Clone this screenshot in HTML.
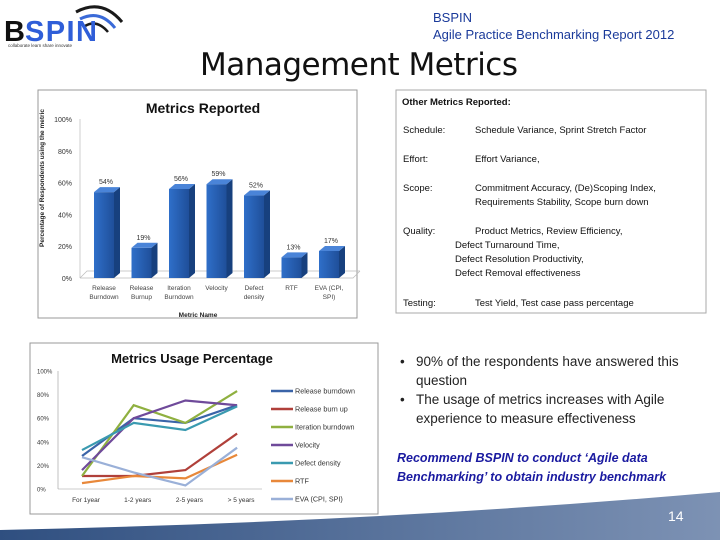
<!DOCTYPE html>
<html><head><meta charset="utf-8"><style>
body{margin:0;width:720px;height:540px;overflow:hidden;background:#fff;font-family:"Liberation Sans",sans-serif}
svg{display:block}
</style></head><body>
<svg id="s" width="720" height="540" xmlns="http://www.w3.org/2000/svg">
<defs>
<linearGradient id="bg" x1="0" x2="1" y1="0" y2="0"><stop offset="0" stop-color="#2f4f80"/><stop offset="1" stop-color="#7d92b4"/></linearGradient>
<linearGradient id="bf" x1="0" x2="1"><stop offset="0" stop-color="#2f6fc9"/><stop offset="1" stop-color="#1f4f9a"/></linearGradient>
</defs>
<path d="M0,540 L0,530 Q380,522 720,492 L720,540 Z" fill="url(#bg)"/>
<text x="668" y="521" font-size="14" fill="#fff">14</text>
<g>
<path d="M76,12 Q102,-2 122,22" stroke="#1a1a1a" stroke-width="3" fill="none"/>
<path d="M80,19 Q100,9 115,28" stroke="#3a6ad8" stroke-width="3" fill="none"/>
<path d="M85,26 Q97,19 108,32" stroke="#1a1a1a" stroke-width="2.5" fill="none"/>
<text x="4" y="41" font-size="29" font-weight="bold" fill="#111" font-family="Liberation Sans">B</text>
<text x="25" y="41" font-size="29" font-weight="bold" fill="#2f5ed8" font-family="Liberation Sans" textLength="72">SPIN</text>
<text x="8" y="47" font-size="4.5" fill="#333">collaborate learn share innovate</text>
</g>
<text x="433" y="22" font-size="13" fill="#1a3a9a">BSPIN</text>
<text x="433" y="39" font-size="13" fill="#1a3a9a">Agile Practice Benchmarking Report 2012</text>
<text x="200" y="75" font-size="31" fill="#111" font-family="DejaVu Sans" textLength="318">Management Metrics</text>

<g id="bar">
<rect x="38" y="90" width="319" height="228" fill="#fff" stroke="#999"/>
<text x="203" y="113" font-size="14" font-weight="bold" text-anchor="middle" fill="#111">Metrics Reported</text>
<text x="198" y="317" font-size="6.5" font-weight="bold" text-anchor="middle" fill="#222">Metric Name</text>
<text transform="translate(44,178) rotate(-90)" font-size="6.5" font-weight="bold" text-anchor="middle" fill="#222">Percentage of Respondents using the metric</text>
</g>

<g id="ln">
<rect x="30" y="343" width="348" height="171" fill="#fff" stroke="#999"/>
<text x="192" y="363" font-size="13" font-weight="bold" text-anchor="middle" fill="#111">Metrics Usage Percentage</text>
</g>

<rect x="396" y="90" width="310" height="223" fill="#fff" stroke="#aaa"/>
<g font-size="9.5" fill="#111">
<text x="402" y="105" font-weight="bold">Other Metrics Reported:</text>
<text x="403" y="133">Schedule:</text><text x="475" y="133">Schedule Variance, Sprint Stretch Factor</text>
<text x="403" y="162">Effort:</text><text x="475" y="162">Effort  Variance,</text>
<text x="403" y="191">Scope:</text><text x="475" y="191">Commitment Accuracy, (De)Scoping Index,</text>
<text x="475" y="205">Requirements Stability, Scope burn down</text>
<text x="403" y="234">Quality:</text><text x="475" y="234">Product Metrics, Review Efficiency,</text>
<text x="455" y="248">Defect Turnaround Time,</text>
<text x="455" y="262">Defect Resolution Productivity,</text>
<text x="455" y="276">Defect Removal  effectiveness</text>
<text x="403" y="306">Testing:</text><text x="475" y="306">Test Yield, Test case pass percentage</text>
</g>
<g font-size="13.5" fill="#222">
<text x="400" y="366">•</text><text x="416" y="366">90% of the respondents have answered this</text>
<text x="416" y="385">question</text>
<text x="400" y="404">•</text><text x="416" y="404">The usage of metrics increases with Agile</text>
<text x="416" y="423">experience to measure effectiveness</text>
</g>
<g font-size="12.5" font-weight="bold" font-style="italic" fill="#1a1aa0">
<text x="397" y="462">Recommend BSPIN to conduct ‘Agile data</text>
<text x="397" y="481">Benchmarking’ to obtain industry benchmark</text>
</g>
</svg>
<script>
const barCats=[["Release","Burndown"],["Release","Burnup"],["Iteration","Burndown"],["Velocity",""],["Defect","density"],["RTF",""],["EVA (CPI,","SPI)"]];
const barVals=[54,19,56,59,52,13,17];
const barTicks=[0,20,40,60,80,100];
const lineCats=["For 1year","1-2 years","2-5 years","> 5 years"];
const lineNames=["Release burndown","Release burn up","Iteration burndown","Velocity","Defect density","RTF","EVA (CPI, SPI)"];
const lineColors=["#3a64a8","#b0403a","#8fb040","#6f4a9a","#3a9ab0","#e8883a","#9ab0d8"];
const lineVals=[[28,60,56,71],[11,11,16,47],[11,71,56,83],[16,60,75,71],[33,56,50,70],[5,11,9,29],[27,14,3,35]];
const lineTicks=[0,20,40,60,80,100];
const NS="http://www.w3.org/2000/svg";
function mk(p,t,a){const e=document.createElementNS(NS,t);for(const k in a)e.setAttribute(k,a[k]);p.appendChild(e);return e;}
const bar=document.getElementById('bar');
const by=v=>278-v*1.59, bx=i=>104+i*37.5;
barTicks.forEach(t=>{const e=mk(bar,'text',{x:72,y:by(t)+3,'font-size':7,'text-anchor':'end',fill:'#333'});e.textContent=t+'%';

});
mk(bar,'path',{d:`M80,${by(0)} L353,${by(0)} L360,${by(0)-7} M80,${by(0)} L87,${by(0)-7} L360,${by(0)-7}`,stroke:'#bbb',fill:'none','stroke-width':0.7});
mk(bar,'line',{x1:80,y1:by(0),x2:80,y2:by(100),stroke:'#bbb','stroke-width':0.7});
barVals.forEach((v,i)=>{const x=bx(i)-10,y=by(v),h=by(0)-y;
const g=mk(bar,'g',{});


mk(g,'rect',{x:x,y:y,width:20,height:h,fill:'url(#bf)'});
mk(g,'path',{d:`M${x+20},${y} l6,-5 l0,${h} l-6,5 Z`,fill:'#17407e'});
mk(g,'path',{d:`M${x},${y} l6,-5 l20,0 l-6,5 Z`,fill:'#4a84d8'});
const l=mk(bar,'text',{x:bx(i)+2,y:y-8,'font-size':7,'text-anchor':'middle',fill:'#333'});l.textContent=v+'%';


barCats[i].forEach((s,j)=>{const c=mk(bar,'text',{x:bx(i),y:290+j*9,'font-size':6.5,'text-anchor':'middle',fill:'#444'});c.textContent=s;

});
});
const ln=document.getElementById('ln');
const ly=v=>489-v*1.18, lx=i=>82+i*51.7;
lineTicks.forEach(t=>{const e=mk(ln,'text',{x:37,y:ly(t)+2.5,'font-size':6,fill:'#333'});e.textContent=t+'%';

});
mk(ln,'line',{x1:58,y1:ly(0),x2:262,y2:ly(0),stroke:'#999','stroke-width':0.6});
mk(ln,'line',{x1:58,y1:ly(0),x2:58,y2:ly(100),stroke:'#999','stroke-width':0.6});
lineCats.forEach((c,i)=>{const e=mk(ln,'text',{x:lx(i)+4,y:502,'font-size':6.5,'text-anchor':'middle',fill:'#333'});e.textContent=c;

});
lineVals.forEach((s,k)=>{const p=mk(ln,'polyline',{points:s.map((v,i)=>lx(i)+','+ly(v)).join(' '),fill:'none',stroke:lineColors[k],'stroke-width':2.2});


const yy=391+k*18;
const g=mk(ln,'g',{});


mk(g,'line',{x1:271,y1:yy,x2:293,y2:yy,stroke:lineColors[k],'stroke-width':2.5});
const t=mk(g,'text',{x:295,y:yy+2.5,'font-size':7.2,fill:'#333'});t.textContent=lineNames[k];});
</script>
</body></html>
